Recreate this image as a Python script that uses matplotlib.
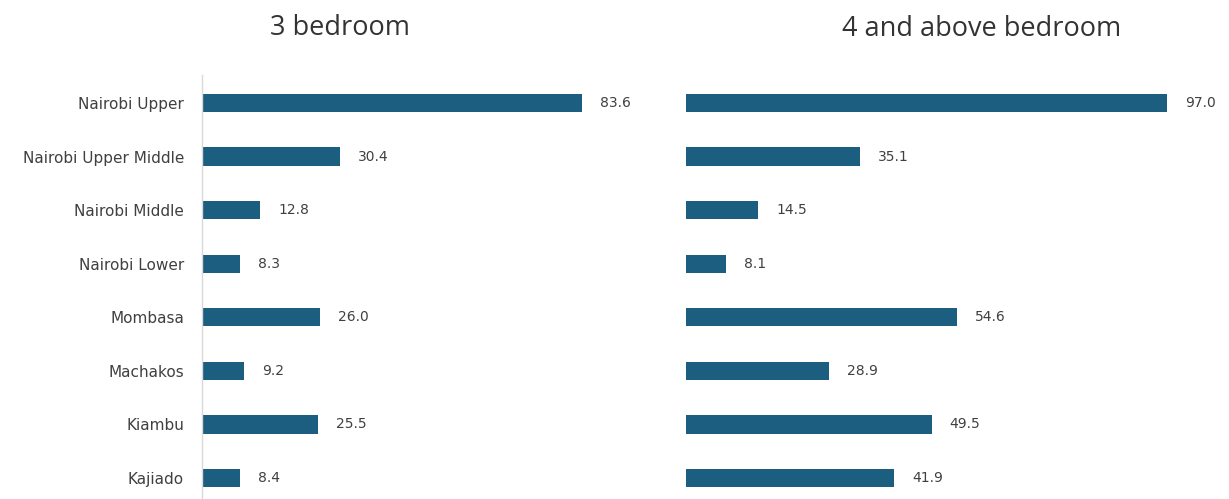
import matplotlib.pyplot as plt

regions = ['Nairobi Upper', 'Nairobi Upper Middle', 'Nairobi Middle', 'Nairobi Lower',
           'Mombasa', 'Machakos', 'Kiambu', 'Kajiado']
three_bed = [83.6, 30.4, 12.8, 8.3, 26.0, 9.2, 25.5, 8.4]
four_plus_bed = [97.0, 35.1, 14.5, 8.1, 54.6, 28.9, 49.5, 41.9]

bar_color = '#1b5e80'
text_color = '#404040'

W, H = 1229, 499
fig = plt.figure(figsize=(W / 100, H / 100), dpi=100)

# axes boxes in pixel terms: left, right, top
ax_top = 75
ax_left = fig.add_axes([202 / W, 0, (660 - 202) / W, (H - ax_top) / H])
ax_right = fig.add_axes([686 / W, 0, (W - 686) / W, (H - ax_top) / H])

y = list(range(len(regions)))
panels = [(ax_left, three_bed, (660 - 202) / 4.55, True),
          (ax_right, four_plus_bed, (W - 686) / 4.96, False)]

for ax, vals, xmax, show_labels in panels:
    ax.barh(y, vals, height=0.34, color=bar_color)
    ax.set_xlim(0, xmax)
    ax.set_ylim(7 + (H - 478) / 53.6, -(103 - ax_top) / 53.6)
    for yi, v in zip(y, vals):
        ax.annotate(f'{v:.1f}', (v, yi), xytext=(13, 0), textcoords='offset points',
                    va='center', ha='left', fontsize=10, color=text_color,
                    family='DejaVu Sans')
    ax.set_xticks([])
    for side in ['top', 'right', 'bottom']:
        ax.spines[side].set_visible(False)
    if show_labels:
        ax.spines['left'].set_color('#d9d9d9')
        ax.spines['left'].set_linewidth(1)
        ax.set_yticks(y)
        ax.set_yticklabels(regions, fontsize=11, color=text_color, family='DejaVu Sans')
        ax.tick_params(axis='y', length=0, pad=13)
    else:
        ax.spines['left'].set_visible(False)
        ax.set_yticks([])

fig.text(340 / W, 1 - 35 / H, '3 bedroom', ha='center', va='baseline',
         fontsize=19.5, color='#333333', family='Open Sans')
fig.text(982 / W, 1 - 36 / H, '4 and above bedroom', ha='center', va='baseline',
         fontsize=19.5, color='#333333', family='Open Sans')

fig.savefig('out.png', dpi=100, facecolor='white')
